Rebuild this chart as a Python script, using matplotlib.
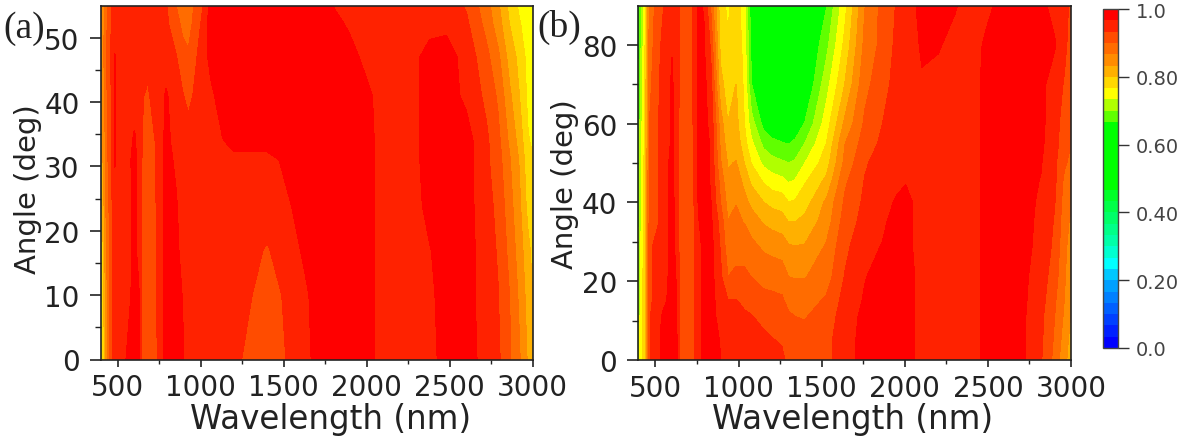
import numpy as np
import matplotlib
matplotlib.use("Agg")
import matplotlib.pyplot as plt
from matplotlib.colors import ListedColormap, BoundaryNorm

W, H = 1181, 439

# panel (a): one list per wavelength, values at angles_a
angles_a = [0, 10, 17, 24, 31, 34, 41, 47, 52, 55]
wave_a = [395, 410, 430, 465, 480, 540, 600, 625, 650, 680, 720, 755, 790, 850, 890, 925,
          1010, 1060, 1130, 1200, 1400, 1620, 1720, 1800, 1900, 2000, 2100, 2250, 2380,
          2480, 2600, 2720, 2790, 2860, 2920, 2970, 3000]
refl_a = [
    [.70, .74, .75, .78, .80, .81, .82, .82, .83, .83],
    [.76, .78, .79, .81, .83, .83, .84, .85, .85, .85],
    [.84, .85, .86, .87, .88, .88, .89, .90, .89, .89],
    [.93, .93, .93, .93, .94, .94, .94, .94, .94, .94],
    [.955, .955, .955, .96, .968, .968, .968, .968, .955, .95],
    [.965, .95, .945, .945, .95, .95, .95, .95, .94, .935],
    [.975, .975, .975, .975, .975, .97, .955, .95, .95, .95],
    [.975, .97, .955, .955, .955, .955, .955, .95, .95, .95],
    [.915, .915, .915, .92, .925, .93, .935, .95, .955, .955],
    [.915, .915, .915, .915, .915, .915, .925, .95, .955, .955],
    [.915, .92, .92, .925, .93, .93, .95, .95, .955, .955],
    [.95, .95, .95, .95, .95, .95, .95, .95, .95, .95],
    [.98, .98, .98, .98, .98, .975, .97, .95, .94, .935],
    [.98, .98, .975, .97, .96, .955, .95, .935, .915, .90],
    [.97, .965, .955, .95, .95, .95, .935, .915, .89, .885],
    [.95, .95, .95, .95, .95, .945, .925, .905, .885, .88],
    [.95, .95, .95, .95, .95, .95, .95, .95, .94, .93],
    [.95, .95, .95, .95, .95, .95, .96, .975, .98, .98],
    [.95, .95, .95, .95, .95, .965, .98, .98, .98, .98],
    [.94, .955, .955, .955, .96, .975, .98, .98, .98, .98],
    [.91, .915, .93, .95, .96, .975, .98, .98, .98, .98],
    [.955, .96, .97, .975, .98, .98, .98, .98, .98, .98],
    [.98, .98, .98, .98, .98, .98, .98, .98, .98, .98],
    [.98, .98, .98, .98, .98, .98, .98, .98, .98, .965],
    [.98, .98, .98, .98, .98, .98, .98, .98, .96, .955],
    [.98, .98, .98, .98, .98, .98, .975, .955, .95, .95],
    [.95, .95, .95, .95, .95, .95, .95, .95, .95, .95],
    [.95, .95, .95, .95, .95, .95, .95, .95, .95, .95],
    [.955, .96, .965, .975, .98, .98, .98, .98, .955, .95],
    [.98, .98, .98, .98, .98, .98, .98, .98, .96, .95],
    [.98, .98, .98, .98, .98, .98, .96, .955, .94, .93],
    [.955, .95, .95, .945, .94, .94, .925, .91, .89, .88],
    [.94, .935, .93, .925, .915, .91, .895, .875, .85, .84],
    [.905, .90, .89, .88, .87, .86, .84, .82, .80, .79],
    [.87, .86, .85, .84, .83, .82, .80, .79, .77, .76],
    [.83, .82, .81, .79, .78, .77, .76, .755, .75, .75],
    [.81, .80, .79, .78, .77, .76, .75, .745, .74, .74],
]

# panel (b): same layout, values at angles_b
angles_b = [0, 5, 11, 15, 21, 29, 35, 40, 45, 50, 55, 60, 70, 80, 90]
wave_b = [395, 415, 440, 465, 510, 545, 600, 625, 650, 720, 760, 790, 830, 890, 935, 985,
          1033, 1076, 1150, 1200, 1260, 1300, 1340, 1400, 1530, 1640, 1760, 1866, 1950, 2005,
          2065, 2104, 2200, 2300, 2400, 2450, 2500, 2560, 2680, 2820, 2900, 2960, 3000]
refl_b = [
    [.70, .70, .70, .69, .69, .68, .68, .67, .67, .66, .66, .66, .65, .64, .64],
    [.75, .75, .75, .74, .74, .74, .73, .73, .73, .72, .72, .72, .71, .70, .69],
    [.80, .80, .80, .80, .80, .79, .79, .79, .79, .79, .78, .78, .78, .77, .76],
    [.93, .93, .93, .92, .92, .92, .91, .91, .91, .90, .90, .90, .89, .88, .87],
    [.955, .955, .955, .955, .955, .95, .925, .925, .925, .925, .925, .925, .925, .92, .915],
    [.975, .975, .97, .96, .955, .95, .95, .95, .95, .95, .95, .95, .945, .94, .93],
    [.975, .975, .975, .975, .975, .975, .975, .975, .975, .975, .97, .97, .97, .965, .96],
    [.975, .975, .97, .97, .965, .96, .955, .955, .95, .95, .95, .95, .95, .95, .95],
    [.915, .915, .915, .915, .915, .915, .915, .915, .92, .92, .92, .92, .925, .925, .925],
    [.915, .915, .915, .915, .915, .915, .915, .915, .92, .92, .92, .925, .93, .93, .93],
    [.955, .955, .955, .955, .955, .955, .965, .97, .97, .97, .97, .97, .97, .97, .97],
    [.975, .975, .975, .975, .975, .975, .975, .975, .975, .975, .975, .975, .975, .97, .965],
    [.98, .98, .98, .98, .98, .98, .975, .97, .965, .965, .965, .96, .95, .93, .90],
    [.967, .965, .955, .95, .94, .93, .92, .90, .89, .87, .86, .85, .81, .79, .78],
    [.955, .95, .945, .935, .90, .88, .867, .855, .84, .83, .815, .80, .785, .77, .76],
    [.955, .955, .95, .935, .905, .89, .875, .865, .855, .835, .82, .81, .80, .79, .78],
    [.95, .95, .94, .925, .905, .89, .865, .845, .825, .80, .78, .767, .76, .755, .75],
    [.95, .945, .935, .92, .90, .875, .85, .825, .795, .765, .74, .715, .667, .655, .64],
    [.945, .94, .925, .91, .89, .86, .83, .80, .765, .725, .69, .655, .63, .62, .61],
    [.942, .935, .92, .908, .888, .855, .822, .79, .752, .714, .674, .645, .625, .615, .605],
    [.94, .93, .915, .905, .885, .85, .815, .785, .745, .705, .668, .64, .62, .61, .60],
    [.925, .918, .905, .89, .867, .835, .80, .767, .733, .70, .665, .64, .62, .61, .60],
    [.92, .91, .90, .885, .865, .833, .80, .77, .738, .705, .672, .645, .625, .615, .605],
    [.915, .91, .898, .885, .865, .835, .81, .785, .765, .733, .70, .668, .63, .62, .61],
    [.925, .925, .915, .905, .885, .87, .85, .84, .81, .785, .767, .75, .72, .69, .665],
    [.95, .95, .95, .945, .935, .925, .915, .905, .895, .875, .865, .84, .80, .775, .755],
    [.98, .98, .975, .97, .965, .955, .945, .94, .935, .93, .915, .905, .89, .875, .865],
    [.98, .98, .98, .98, .98, .968, .96, .955, .95, .945, .94, .933, .92, .91, .91],
    [.98, .98, .98, .98, .98, .98, .98, .97, .96, .955, .955, .95, .945, .94, .935],
    [.98, .98, .98, .98, .98, .98, .98, .98, .965, .955, .955, .955, .95, .95, .95],
    [.965, .965, .965, .965, .965, .96, .96, .96, .955, .955, .95, .95, .95, .955, .965],
    [.95, .95, .95, .95, .95, .95, .95, .95, .95, .95, .95, .95, .96, .975, .98],
    [.95, .95, .95, .95, .95, .95, .95, .95, .95, .95, .95, .95, .955, .97, .98],
    [.95, .95, .95, .95, .95, .95, .95, .95, .95, .95, .95, .95, .95, .955, .97],
    [.955, .955, .955, .955, .955, .955, .955, .955, .955, .955, .955, .955, .955, .955, .95],
    [.965, .965, .965, .965, .965, .965, .965, .965, .965, .965, .965, .965, .965, .96, .95],
    [.98, .98, .98, .98, .98, .98, .98, .98, .98, .98, .98, .98, .98, .98, .955],
    [.98, .98, .98, .98, .98, .98, .98, .98, .98, .98, .98, .98, .98, .98, .975],
    [.98, .98, .98, .98, .98, .98, .98, .98, .98, .98, .98, .98, .98, .98, .98],
    [.935, .938, .94, .945, .95, .958, .96, .962, .965, .968, .972, .975, .975, .98, .975],
    [.89, .895, .90, .905, .915, .925, .93, .935, .94, .94, .945, .945, .95, .97, .955],
    [.84, .85, .86, .865, .87, .875, .88, .885, .89, .905, .915, .92, .93, .94, .945],
    [.82, .82, .83, .835, .84, .85, .86, .87, .88, .89, .90, .905, .91, .92, .925],
]

band_colors = ["#0000ff", "#0020ff", "#0040ff", "#0060ff", "#0080ff", "#00a0ff", "#00c8ff",
               "#00ffff", "#00ffd0", "#00ffa8", "#00ff88", "#00ff68", "#00ff48", "#00ff28",
               "#00ff00", "#00ff00", "#00ff00", "#00ff00", "#00ff00", "#00ff00",
               "#60ff00", "#b0ff00", "#ffff00", "#ffd800", "#ffb000", "#ff8c00",
               "#ff6c00", "#ff4c00", "#ff2200", "#ff0000"]
cbar_ticks = [0.0, 0.2, 0.4, 0.6, 0.8, 1.0]
cbar_labels = ["0.0", "0.20", "0.40", "0.60", "0.80", "1.0"]

levels = np.linspace(0, 1, 31)
cmap = ListedColormap(band_colors)
norm = BoundaryNorm(levels, cmap.N)

plt.rcParams["font.family"] = ["DejaVu Sans"]
ink = "#222222"


def px_axes(fig, left, right, top, bottom):
    return fig.add_axes([left / W, 1 - bottom / H, (right - left) / W, (bottom - top) / H])


def panel(ax, wave, angles, refl, ymax, ystep):
    grid = np.array(refl).T
    cs = ax.contourf(wave, angles, grid, levels=levels, cmap=cmap, norm=norm)
    cs.set_edgecolor("face")
    cs.set_linewidth(0.4)
    ax.set_xlim(395, 3000)
    ax.set_ylim(0, ymax)
    ax.set_xticks(np.arange(500, 3001, 500))
    ax.set_xticks(np.arange(750, 3000, 500), minor=True)
    ax.set_yticks(np.arange(0, ymax, ystep))
    ax.set_yticks(np.arange(ystep / 2, ymax, ystep), minor=True)
    ax.tick_params(which="major", width=1.2, color=ink, labelcolor=ink, labelsize=20)
    ax.tick_params(axis="x", which="major", length=5, pad=5)
    ax.tick_params(axis="y", which="major", length=8, pad=7)
    ax.tick_params(axis="x", which="minor", length=3, width=1.0, color=ink)
    ax.tick_params(axis="y", which="minor", length=4, width=1.0, color=ink)
    for s in ax.spines.values():
        s.set_linewidth(1.2)
        s.set_color(ink)
    return cs


fig = plt.figure(figsize=(W / 100, H / 100), dpi=100)

ax_a = px_axes(fig, 100.5, 532.5, 6.5, 360.5)
cs = panel(ax_a, wave_a, angles_a, refl_a, 55, 10)
ax_b = px_axes(fig, 638, 1071, 6.5, 361)
panel(ax_b, wave_b, angles_b, refl_b, 90, 20)

fig.text(331 / W, 1 - 429 / H, "Wavelength (nm)", ha="center", va="baseline", fontsize=23.5, color=ink)
fig.text(853 / W, 1 - 429 / H, "Wavelength (nm)", ha="center", va="baseline", fontsize=23.5, color=ink)
fig.text(28 / W, 1 - 189 / H, "Angle (deg)", rotation=90, ha="center", va="center", fontsize=21, color=ink)
fig.text(565 / W, 1 - 184 / H, "Angle (deg)", rotation=90, ha="center", va="center", fontsize=21, color=ink)
fig.text(3 / W, 1 - 29 / H, "(a)", ha="left", va="center", fontsize=27, family="Liberation Serif", color=ink)
fig.text(537 / W, 1 - 27 / H, "(b)", ha="left", va="center", fontsize=27, family="Liberation Serif", color=ink)

cax = px_axes(fig, 1103, 1118, 10, 349)
cb = fig.colorbar(cs, cax=cax, ticks=cbar_ticks, spacing="proportional")
cb.ax.set_yticklabels(cbar_labels)
cb.minorticks_off()
cb.ax.tick_params(length=8, width=1.0, color="#333333", labelcolor="#444444", labelsize=14, pad=5)
cb.outline.set_edgecolor("#444444")
cb.outline.set_linewidth(1.0)

fig.savefig("out.png", dpi=100)
